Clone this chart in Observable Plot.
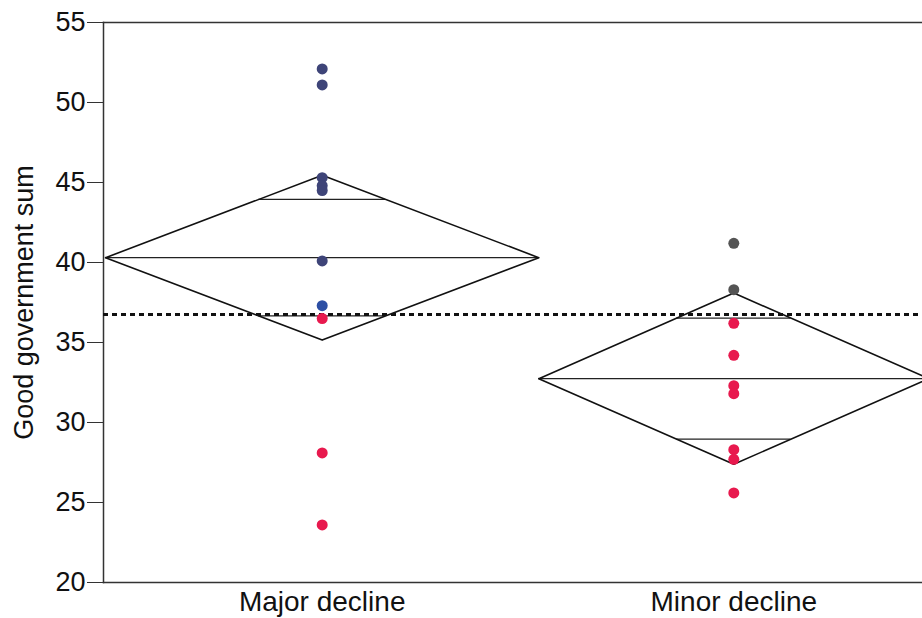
<!DOCTYPE html>
<html>
<head>
<meta charset="utf-8">
<script src="https://cdn.jsdelivr.net/npm/d3@7"></script>
<script src="https://cdn.jsdelivr.net/npm/@observablehq/plot@0.6"></script>
<style>
  html, body { margin: 0; padding: 0; background: #fff; }
  #chart { width: 922px; height: 618px; overflow: hidden; }
</style>
</head>
<body>
<div id="chart"></div>
<script>
// ---- data ----
const groups = ["Major decline", "Minor decline"];
const majorValues = [52.1, 51.1, 45.3, 44.8, 44.5, 40.1, 37.3, 36.5, 28.1, 23.6];
const majorColors = ["k1", "k1", "k1", "k1", "k1", "k1", "k2", "k4", "k4", "k4"];
const minorValues = [41.2, 38.3, 36.2, 34.2, 32.3, 31.8, 28.3, 27.7, 25.6];
const minorColors = ["k3", "k3", "k4", "k4", "k4", "k4", "k4", "k4", "k4"];
const groupMeans = [40.3, 32.74];
const ciHalfWidths = [5.15, 5.35];
const grandMean = 36.75;
const yTicks = [20, 25, 30, 35, 40, 45, 50, 55];
const yLabel = "Good government sum";

// ---- derived tables ----
const groupValues = [majorValues, minorValues];
const groupColors = [majorColors, minorColors];
const counts = groupValues.map(v => v.length);
const starts = counts.map((n, i) => d3.sum(counts.slice(0, i)));
const total = d3.sum(counts);
const stats = groups.map((g, i) => ({
  group: g,
  start: starts[i],
  end: starts[i] + counts[i],
  center: starts[i] + counts[i] / 2,
  half: counts[i] / 2,
  mean: groupMeans[i],
  ci: ciHalfWidths[i]
}));
const centers = stats.map(s => s.center);

const points = [];
groupValues.forEach((vals, i) => vals.forEach((v, j) => points.push({
  group: groups[i], x: stats[i].center, y: v, c: groupColors[i][j]
})));

const diamond = [];
stats.forEach(s => {
  diamond.push({g: s.group, x: s.start, y: s.mean});
  diamond.push({g: s.group, x: s.center, y: s.mean + s.ci});
  diamond.push({g: s.group, x: s.end, y: s.mean});
  diamond.push({g: s.group, x: s.center, y: s.mean - s.ci});
  diamond.push({g: s.group, x: s.start, y: s.mean});
});

const k = 1 / Math.SQRT2;
const overlaps = [];
stats.forEach(s => {
  const hw = s.half * (1 - k);
  overlaps.push({x1: s.center - hw, x2: s.center + hw, y: s.mean + s.ci * k});
  overlaps.push({x1: s.center - hw, x2: s.center + hw, y: s.mean - s.ci * k});
});

const W = 922, H = 618;
const pxPerUnit = (733.3 - 321.7) / (centers[1] - centers[0]);
const x0 = 321.7 - centers[0] * pxPerUnit;

const chart = Plot.plot({
  width: W,
  height: H,
  marginLeft: 103,
  marginRight: 0,
  marginTop: 22,
  marginBottom: 36,
  style: {fontFamily: "'Liberation Sans', Arial, Helvetica, sans-serif", background: "#fff", color: "#111"},
  x: {type: "linear", domain: [0, total], range: [x0, x0 + total * pxPerUnit]},
  y: {domain: [20, 55]},
  color: {type: "ordinal", domain: ["k1", "k2", "k3", "k4"], range: ["#3e4478", "#2d4fa4", "#545454", "#e8194e"]},
  marks: [
    Plot.frame({anchor: "top", stroke: "#333", strokeWidth: 1.5}),
    Plot.frame({anchor: "bottom", stroke: "#333", strokeWidth: 1.5}),
    Plot.frame({anchor: "left", stroke: "#333", strokeWidth: 1.5}),
    Plot.axisY({ticks: yTicks, tickSize: 16, tickPadding: 2, fontSize: 27, stroke: "#333",
      label: yLabel, labelAnchor: "center", labelArrow: "none", labelOffset: 90}),
    Plot.axisX({ticks: centers, tickFormat: d => groups[centers.indexOf(d)], tickSize: 0,
      tickPadding: 9, fontSize: 28, label: null}),
    Plot.ruleY(stats, {x1: "start", x2: "end", y: "mean", stroke: "#222", strokeWidth: 1.2}),
    Plot.ruleY(overlaps, {x1: "x1", x2: "x2", y: "y", stroke: "#222", strokeWidth: 1.2}),
    Plot.line(diamond, {x: "x", y: "y", z: "g", stroke: "#111", strokeWidth: 1.6, curve: "linear"}),
    Plot.ruleY([grandMean], {stroke: "#111", strokeWidth: 2.8, strokeDasharray: "5,4"}),
    Plot.dot(points, {x: "x", y: "y", fill: {value: "c", scale: "color"}, r: 5.5, stroke: null})
  ]
});
document.getElementById("chart").appendChild(chart);
</script>
</body>
</html>
